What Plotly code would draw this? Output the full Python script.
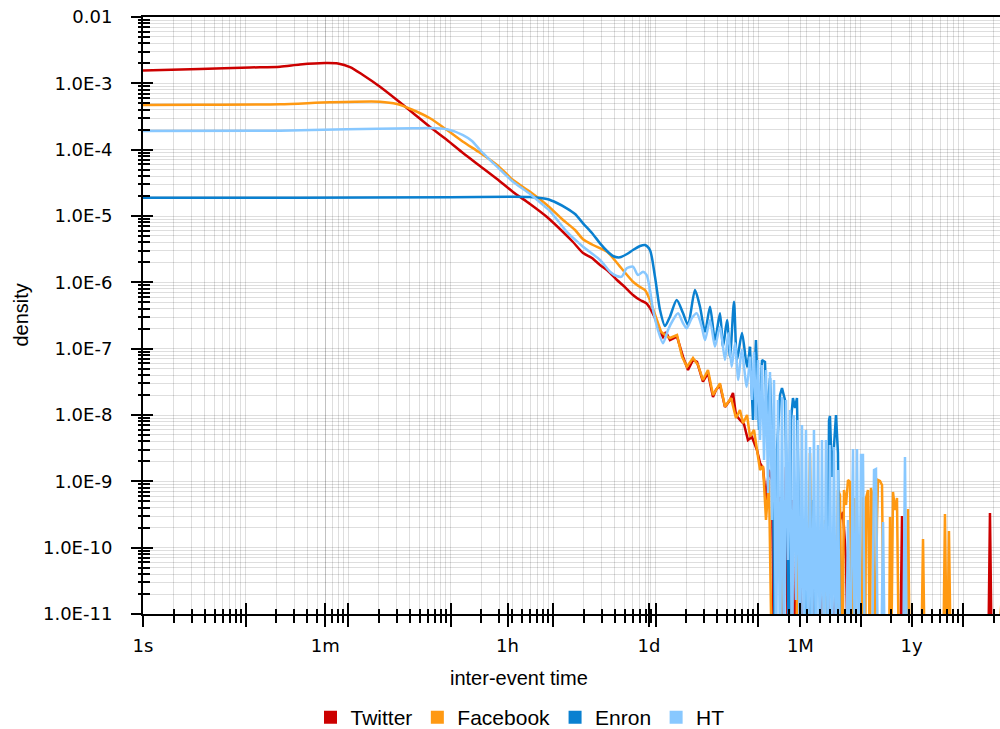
import numpy as np
import plotly.graph_objects as go

# ---------------- data ----------------
# x: log10(inter-event time in seconds), y: log10(density); -12 = density ~0 (below axis)
twitter_log_t = [0, 0.556, 1.044, 1.337, 1.532, 1.776, 1.902, 2.02, 2.146, 2.312,
                 2.478, 2.634, 2.8, 2.966, 3.122, 3.288, 3.454, 3.61, 3.776, 3.941,
                 4.098, 4.195, 4.293, 4.38, 4.459, 4.537, 4.624, 4.702, 4.78, 4.849,
                 4.907, 4.946, 4.995, 5.044, 5.073, 5.102, 5.141, 5.21, 5.268, 5.317,
                 5.366, 5.405, 5.463, 5.512, 5.561, 5.59, 5.629, 5.678, 5.727, 5.756,
                 5.785, 5.824, 5.863, 5.902, 5.941, 5.99, 6.02, 6.049, 6.078, 6.107,
                 6.137, 6.156, 6.185, 6.215, 6.234, 6.273, 6.293, 6.332, 6.361, 6.39,
                 6.41, 6.429, 6.459, 6.488, 6.527, 6.556, 6.673, 6.702, 6.8, 6.829,
                 6.859, 6.878, 7.385, 7.405, 7.424, 8.244, 8.263, 8.283]
twitter_log_density = [-2.807, -2.784, -2.761, -2.749, -2.716, -2.694, -2.701, -2.754, -2.874, -3.051,
                       -3.251, -3.447, -3.658, -3.854, -4.05, -4.246, -4.442, -4.638, -4.819, -5.015,
                       -5.241, -5.392, -5.558, -5.633, -5.739, -5.829, -5.965, -6.071, -6.191, -6.267,
                       -6.312, -6.387, -6.538, -6.749, -6.824, -6.749, -6.87, -6.82, -7.121, -7.322,
                       -7.171, -7.201, -7.498, -7.367, -7.729, -7.623, -7.548, -7.88, -7.774, -7.669,
                       -8.0, -8.076, -8.136, -8.377, -8.332, -8.528, -8.724, -8.799, -9.282, -8.829,
                       -8.98, -12, -9.583, -9.237, -12, -8.784, -12, -9.282, -12, -9.131,
                       -9.99, -12, -10.186, -12, -10.412, -12, -10.036, -12, -9.583, -9.463,
                       -10.186, -12, -12, -9.523, -12, -12, -9.478, -12]

facebook_log_t = [0, 0.556, 1.337, 1.824, 2.312, 2.478, 2.634, 2.8, 2.966, 3.122,
                  3.288, 3.454, 3.61, 3.776, 3.941, 4.098, 4.215, 4.293, 4.39, 4.527,
                  4.654, 4.78, 4.849, 4.898, 4.946, 5.005, 5.054, 5.093, 5.141, 5.21,
                  5.259, 5.307, 5.366, 5.415, 5.463, 5.512, 5.561, 5.629, 5.678, 5.737,
                  5.785, 5.824, 5.854, 5.893, 5.922, 5.961, 5.99, 6.02, 6.049, 6.078,
                  6.107, 6.137, 6.215, 6.234, 6.263, 6.371, 6.39, 6.42, 6.478, 6.507,
                  6.537, 6.624, 6.654, 6.683, 6.761, 6.78, 6.8, 6.82, 6.839, 6.859,
                  6.878, 6.898, 6.917, 6.937, 6.956, 7.005, 7.024, 7.044, 7.054, 7.073,
                  7.093, 7.102, 7.122, 7.141, 7.161, 7.171, 7.19, 7.21, 7.229, 7.278,
                  7.288, 7.298, 7.317, 7.337, 7.356, 7.376, 7.444, 7.463, 7.483, 7.59,
                  7.61, 7.629, 7.805, 7.824, 7.844, 7.863, 7.883, 8.322, 8.39]
facebook_log_density = [-3.327, -3.322, -3.316, -3.286, -3.277, -3.312, -3.402, -3.527, -3.704, -3.88,
                        -4.046, -4.231, -4.457, -4.634, -4.834, -5.06, -5.211, -5.351, -5.437, -5.538,
                        -5.764, -5.991, -6.071, -6.116, -6.267, -6.538, -6.744, -6.794, -6.839, -6.794,
                        -7.121, -7.272, -7.141, -7.246, -7.473, -7.322, -7.699, -7.523, -7.875, -7.744,
                        -8.046, -7.925, -8.125, -8.0, -8.327, -8.226, -8.528, -8.829, -8.769, -9.583,
                        -8.98, -12, -12, -9.282, -12, -12, -9.282, -12, -12, -8.573,
                        -12, -12, -9.583, -12, -12, -9.131, -9.206, -12, -9.131, -9.357,
                        -8.98, -9.01, -12, -9.252, -12, -12, -9.237, -12, -9.252, -9.131,
                        -12, -9.101, -9.237, -12, -9.583, -8.98, -8.995, -9.056, -12, -12,
                        -9.538, -12, -9.161, -9.433, -9.252, -12, -12, -9.418, -12, -12,
                        -9.87, -12, -12, -9.493, -12, -9.749, -12, -12, -10.49]

enron_log_t = [0, 1.532, 2.995, 3.61, 3.776, 3.941, 4.039, 4.134, 4.215, 4.293,
               4.38, 4.459, 4.527, 4.585, 4.654, 4.722, 4.78, 4.849, 4.898, 4.946,
               4.995, 5.044, 5.093, 5.141, 5.207, 5.268, 5.317, 5.385, 5.434, 5.483,
               5.532, 5.58, 5.629, 5.659, 5.698, 5.727, 5.766, 5.795, 5.844, 5.893,
               5.922, 5.951, 5.98, 6.01, 6.039, 6.068, 6.088, 6.117, 6.146, 6.166,
               6.185, 6.215, 6.234, 6.263, 6.283, 6.302, 6.322, 6.341, 6.361, 6.38,
               6.4, 6.42, 6.449, 6.478, 6.507, 6.537, 6.566, 6.673, 6.693, 6.702,
               6.722, 6.741, 6.761, 6.78, 6.8]
enron_log_density = [-4.724, -4.724, -4.718, -4.709, -4.714, -4.744, -4.804, -4.884, -4.97, -5.11,
                     -5.256, -5.412, -5.528, -5.603, -5.623, -5.573, -5.513, -5.452, -5.437, -5.513,
                     -5.915, -6.417, -6.659, -6.518, -6.267, -6.463, -6.643, -6.116, -6.368, -6.744,
                     -6.368, -6.87, -6.467, -6.971, -6.568, -7.121, -6.292, -7.171, -6.764, -7.272,
                     -6.971, -8.076, -6.87, -8.226, -7.171, -7.201, -8.076, -7.443, -8.829, -12,
                     -8.528, -7.699, -7.593, -7.774, -9.282, -12, -8.076, -7.744, -7.895, -7.744,
                     -9.583, -12, -12, -10.232, -12, -9.282, -12, -12, -8.076, -8.015,
                     -8.935, -8.528, -8.0, -8.573, -12]

ht_log_t = [0, 1.337, 1.99, 2.634, 2.8, 2.966, 3.122, 3.21, 3.288, 3.376,
            3.454, 3.61, 3.776, 3.941, 3.971, 4.134, 4.293, 4.459, 4.556, 4.621,
            4.67, 4.719, 4.78, 4.829, 4.878, 4.914, 4.946, 4.976, 5.024, 5.073,
            5.122, 5.171, 5.22, 5.268, 5.305, 5.353, 5.402, 5.451, 5.483, 5.532,
            5.58, 5.629, 5.678, 5.71, 5.743, 5.776, 5.808, 5.841, 5.89, 5.922,
            5.941, 5.961, 5.98, 6.0, 6.02, 6.039, 6.059, 6.078, 6.098, 6.117,
            6.137, 6.156, 6.176, 6.195, 6.215, 6.234, 6.254, 6.273, 6.293, 6.312,
            6.332, 6.351, 6.371, 6.39, 6.41, 6.429, 6.449, 6.468, 6.488, 6.507,
            6.527, 6.546, 6.566, 6.585, 6.605, 6.624, 6.644, 6.663, 6.683, 6.702,
            6.722, 6.741, 6.761, 6.78, 6.8, 6.859, 6.878, 6.898, 6.927, 6.946,
            6.966, 6.985, 7.005, 7.024, 7.044, 7.112, 7.132, 7.151, 7.171, 7.2,
            7.22, 7.239, 7.415, 7.434, 7.454]
ht_log_density = [-3.719, -3.714, -3.693, -3.678, -3.673, -3.693, -3.779, -3.869, -4.005, -4.141,
                  -4.257, -4.483, -4.668, -4.884, -4.925, -5.237, -5.463, -5.663, -5.84, -5.905,
                  -5.915, -5.789, -5.764, -5.89, -5.84, -5.89, -6.116, -6.417, -6.719, -6.919,
                  -6.719, -6.568, -6.467, -6.613, -6.693, -6.543, -6.467, -6.669, -6.87, -6.568,
                  -6.971, -6.669, -7.171, -6.769, -7.272, -6.919, -7.473, -7.02, -7.574, -7.121,
                  -7.774, -7.051, -8.076, -7.171, -8.377, -7.246, -8.679, -7.322, -9.176, -7.352,
                  -9.583, -7.473, -12, -7.774, -12, -7.729, -12, -7.774, -10.186, -7.925,
                  -12, -8.0, -10.789, -8.076, -12, -8.151, -12, -8.226, -12, -8.483,
                  -12, -8.226, -12, -8.453, -12, -8.377, -12, -8.377, -12, -8.453,
                  -12, -8.483, -12, -8.829, -12, -12, -9.583, -12, -8.513, -12,
                  -8.513, -12, -8.603, -8.603, -12, -12, -8.829, -8.814, -12, -12,
                  -9.613, -12, -12, -8.633, -12]

series_names = ["Twitter", "Facebook", "Enron", "HT"]
series_colors = ["#cc0000", "#ff9912", "#0a80d0", "#88c8ff"]
# log10(t) up to which each curve is smooth (drawn as spline); beyond it, raw jagged segments
smooth_until = [4.946, 4.946, 5.922, 5.922]

time_tick_values = [1, 10, 60, 100, 1000, 3600, 1e4, 86400, 1e5, 1e6, 2592000, 1e7, 31536000, 1e8]
time_tick_labels = ["1s", "", "1m", "", "", "1h", "", "1d", "", "", "1M", "", "1y", ""]
density_tick_values = [1e-11, 1e-10, 1e-9, 1e-8, 1e-7, 1e-6, 1e-5, 1e-4, 1e-3, 1e-2]
density_tick_labels = ["1.0E-11", "1.0E-10", "1.0E-9", "1.0E-8", "1.0E-7",
                       "1.0E-6", "1.0E-5", "1.0E-4", "1.0E-3", "0.01"]

# ---------------- figure ----------------
series_data = [(twitter_log_t, twitter_log_density),
               (facebook_log_t, facebook_log_density),
               (enron_log_t, enron_log_density),
               (ht_log_t, ht_log_density)]

fig = go.Figure()
for name, color, split, (lt, ld) in zip(series_names, series_colors, smooth_until, series_data):
    assert len(lt) == len(ld), name
    lt = np.asarray(lt, dtype=float)
    ld = np.asarray(ld, dtype=float)
    head = lt <= split + 1e-9
    tail = lt >= split - 1e-9
    fig.add_trace(go.Scatter(
        x=np.power(10.0, lt[head]), y=np.power(10.0, ld[head]), mode="lines", name=name,
        legendgroup=name, line=dict(color=color, width=2.5, shape="spline", smoothing=0.7),
        showlegend=False, hoverinfo="x+y+name"))
    fig.add_trace(go.Scatter(
        x=np.power(10.0, lt[tail]), y=np.power(10.0, ld[tail]), mode="lines", name=name,
        legendgroup=name, line=dict(color=color, width=2.5, shape="linear"),
        showlegend=False, hoverinfo="x+y+name"))

for name, color in zip(series_names, series_colors):
    fig.add_trace(go.Scatter(
        x=[None], y=[None], mode="markers", name=name, legendgroup=name,
        marker=dict(symbol="square", size=13, color=color), showlegend=True))

# invisible trace to bind the overlay (inside-tick) axes
fig.add_trace(go.Scatter(x=[None], y=[None], xaxis="x2", yaxis="y2",
                         showlegend=False, hoverinfo="skip"))

minor_x = [k * 10 ** n for n in range(0, 9) for k in range(2, 10)]
minor_y = [k * 10.0 ** n for n in range(-11, -2) for k in range(2, 10)]

GRID = "rgba(0,0,0,0.13)"
TICKFONT = dict(family="DejaVu Sans", size=18, color="black")
X_RANGE = [0, 8.361]
Y_RANGE = [-11, -2]

fig.update_layout(
    width=1000, height=729,
    margin=dict(l=143, r=0, t=17, b=115, pad=0, autoexpand=False),
    paper_bgcolor="white", plot_bgcolor="white",
    font=dict(family="Liberation Sans", size=20, color="black"),
    showlegend=True,
    legend=dict(orientation="h", xref="container", yref="container",
                x=0.52, y=0.0158, xanchor="center", yanchor="middle",
                font=dict(family="Liberation Sans", size=21, color="black"),
                bgcolor="rgba(0,0,0,0)", itemwidth=30, traceorder="normal"),
    xaxis=dict(
        type="log", range=X_RANGE, showline=True, linecolor="black", linewidth=2, mirror=True,
        tickmode="array", tickvals=time_tick_values, ticktext=time_tick_labels,
        ticks="outside", ticklen=11, tickwidth=2, tickcolor="black",
        tickfont=TICKFONT, ticklabelstandoff=3,
        showgrid=True, gridcolor=GRID, gridwidth=1, zeroline=False,
        minor=dict(tickmode="array", tickvals=minor_x, ticks="outside", ticklen=7,
                   tickwidth=2, tickcolor="black", showgrid=True, gridcolor=GRID, gridwidth=1),
    ),
    xaxis2=dict(
        type="log", range=X_RANGE, overlaying="x", anchor="y", side="bottom",
        showline=False, showgrid=False, zeroline=False, showticklabels=False,
        tickmode="array", tickvals=time_tick_values,
        ticks="inside", ticklen=11, tickwidth=2, tickcolor="black",
        minor=dict(tickmode="array", tickvals=minor_x, ticks="inside", ticklen=5,
                   tickwidth=2, tickcolor="black", showgrid=False),
    ),
    yaxis=dict(
        type="log", range=Y_RANGE, showline=True, linecolor="black", linewidth=2,
        tickmode="array", tickvals=density_tick_values, ticktext=density_tick_labels,
        ticks="outside", ticklen=10, tickwidth=2, tickcolor="black",
        tickfont=TICKFONT, ticklabelstandoff=15,
        showgrid=True, gridcolor=GRID, gridwidth=1, zeroline=False,
        minor=dict(tickmode="array", tickvals=minor_y, ticks="outside", ticklen=3,
                   tickwidth=2, tickcolor="black", showgrid=True, gridcolor=GRID, gridwidth=1),
    ),
    yaxis2=dict(
        type="log", range=Y_RANGE, overlaying="y", anchor="x", side="left",
        showline=False, showgrid=False, zeroline=False, showticklabels=False,
        tickmode="array", tickvals=density_tick_values,
        ticks="inside", ticklen=10, tickwidth=2, tickcolor="black",
        minor=dict(tickmode="array", tickvals=minor_y, ticks="inside", ticklen=7,
                   tickwidth=2, tickcolor="black", showgrid=False),
    ),
    annotations=[
        dict(text="inter-event time", xref="paper", yref="paper", x=0.4385, y=-0.1072,
             xanchor="center", yanchor="middle", showarrow=False,
             font=dict(family="Liberation Sans", size=20, color="black")),
        dict(text="density", xref="paper", yref="paper", x=-0.1435, y=0.5, textangle=-90,
             xanchor="center", yanchor="middle", showarrow=False,
             font=dict(family="Liberation Sans", size=20, color="black")),
    ],
)

fig.write_html("out.html")
